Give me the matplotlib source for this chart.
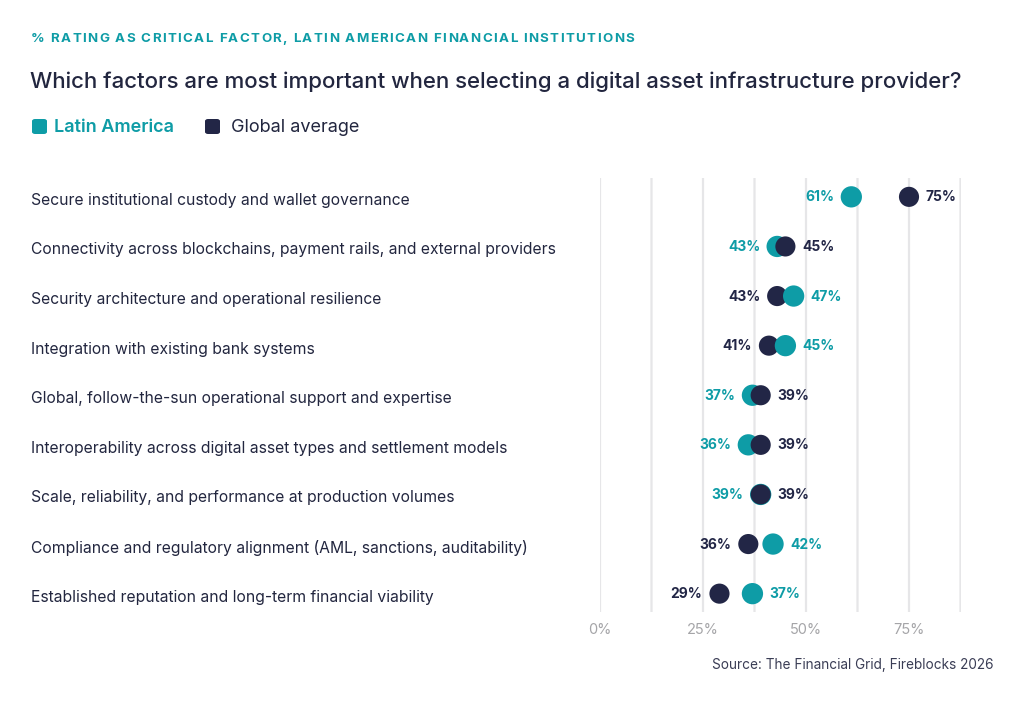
import matplotlib
matplotlib.use("Agg")
import matplotlib.pyplot as plt
import matplotlib.transforms as mtransforms
from matplotlib.patches import FancyBboxPatch

categories = [
    "Secure institutional custody and wallet governance",
    "Connectivity across blockchains, payment rails, and external providers",
    "Security architecture and operational resilience",
    "Integration with existing bank systems",
    "Global, follow-the-sun operational support and expertise",
    "Interoperability across digital asset types and settlement models",
    "Scale, reliability, and performance at production volumes",
    "Compliance and regulatory alignment (AML, sanctions, auditability)",
    "Established reputation and long-term financial viability",
]
latam = [61, 43, 47, 45, 37, 36, 39, 42, 37]
global_avg = [75, 45, 43, 41, 39, 39, 39, 36, 29]
grid_values = [0, 12.5, 25, 37.5, 50, 62.5, 75, 87.5]
tick_values = [0, 25, 50, 75]
tick_labels = ["0%", "25%", "50%", "75%"]

TEAL = "#0E9CA6"
NAVY = "#222646"
TEXT = "#22263F"
FONT = "Inter"

plt.rcParams["font.family"] = [FONT, "DejaVu Sans"]

W, H = 1024, 705
fig = plt.figure(figsize=(W / 100, H / 100), dpi=100)
renderer = fig.canvas.get_renderer()

def fx(px):
    return px / W

def fy(py):
    return 1 - py / H

# Header with letter spacing
header = "% RATING AS CRITICAL FACTOR, LATIN AMERICAN FINANCIAL INSTITUTIONS"
target_w = 634 - 31
widths = []
for ch in header:
    if ch == " ":
        t = fig.text(0, 0, "a a", fontsize=9.6, fontweight="bold")
        w1 = t.get_window_extent(renderer).width
        t.remove()
        t = fig.text(0, 0, "aa", fontsize=9.6, fontweight="bold")
        w2 = t.get_window_extent(renderer).width
        t.remove()
        widths.append(w1 - w2)
    else:
        t = fig.text(0, 0, ch, fontsize=9.6, fontweight="bold")
        widths.append(t.get_window_extent(renderer).width)
        t.remove()
spacing = (target_w - sum(widths)) / (len(header) - 1)
xpos = 31.0
for ch, w in zip(header, widths):
    if ch != " ":
        fig.text(fx(xpos), fy(39), ch, color=TEAL, fontsize=9.6, fontweight="bold",
                 va="center", ha="left")
    xpos += w + spacing

fig.text(fx(30), fy(82), "Which factors are most important when selecting a digital asset infrastructure provider?",
         color=TEXT, fontsize=16.0, fontweight="medium", va="center", ha="left")

# Legend
for x0, col, label, lw, tx in [(32, TEAL, "Latin America", "semibold", 54), (205, NAVY, "Global average", "normal", 231)]:
    box = FancyBboxPatch((fx(x0), fy(134)), fx(15), 15 / H,
                         boxstyle="round,pad=0,rounding_size=0.003",
                         transform=fig.transFigure, facecolor=col, edgecolor="none")
    fig.patches.append(box)
    fig.text(fx(tx), fy(127), label, color=col if col == TEAL else TEXT, fontsize=13,
             fontweight=lw, va="center", ha="left")

# Axes
top, bottom = 178, 612
left, right = 600, 960.5
ax = fig.add_axes([fx(left), fy(bottom), fx(right - left), (bottom - top) / H])
ax.set_xlim(0, 87.5)
ax.set_ylim(8.37, -0.38)
for s in ax.spines.values():
    s.set_visible(False)
ax.set_facecolor("none")
for g in grid_values:
    ax.axvline(g, color="#E6E6E8", linewidth=1.6, zorder=0, snap=False)
ax.set_yticks([])
ax.set_xticks(tick_values)
ax.set_xticklabels(tick_labels, color="#A5A5A8", fontsize=10.5)
ax.tick_params(axis="x", length=0, pad=8)

blend = mtransforms.blended_transform_factory(fig.transFigure, ax.transData)
for i, cat in enumerate(categories):
    ax.text(fx(31), i + 0.07, cat, transform=blend, color=TEXT, fontsize=11.3,
            va="center", ha="left")

for i, (l, g) in enumerate(zip(latam, global_avg)):
    l_top = l > g
    ax.scatter([l], [i], s=235, color=TEAL, zorder=4 if l_top else 3, edgecolors="none")
    ax.scatter([g], [i], s=210, color=NAVY, zorder=3 if l_top else 4, edgecolors="none")
    if l <= g:
        l_side, g_side = -1, 1
    else:
        l_side, g_side = 1, -1
    for v, side, col in [(l, l_side, TEAL), (g, g_side, NAVY)]:
        ax.annotate(f"{v}%", (v, i), xytext=(side * 17, -0.5), textcoords="offset pixels",
                    ha="left" if side > 0 else "right", va="center", color=col,
                    fontsize=10, fontweight="bold", annotation_clip=False)

fig.text(fx(993), fy(665), "Source: The Financial Grid, Fireblocks 2026", color="#3A3D55",
         fontsize=9.8, va="center", ha="right")

fig.savefig("out.png", dpi=100, facecolor="white")
